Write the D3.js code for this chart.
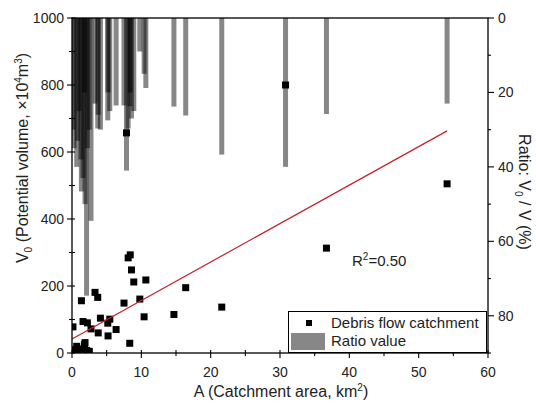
<!DOCTYPE html>
<html>
<head>
<meta charset="utf-8">
<script src="https://cdn.jsdelivr.net/npm/d3@7"></script>
<style>
  body { margin: 0; background: #fff; }
  text { font-family: "Liberation Sans", Arial, sans-serif; fill: #222; }
</style>
</head>
<body>
<div class="chart"></div>
<script>
// catchment area (km2), potential volume V0 (x10^4 m3), ratio V0/V (%)
const areaA = [0.14, 0.3, 0.68, 0.8, 1.0, 1.3, 1.36, 1.59, 1.8, 1.88, 2.1, 2.22, 2.5, 2.74,
  3.32, 3.71, 3.78, 4.1, 5.16, 5.2, 5.45, 6.36, 7.5, 7.86, 8.1, 8.33, 8.4, 8.58, 8.91,
  9.78, 10.4, 10.65, 14.7, 16.4, 21.6, 30.8, 36.7, 54.1];
const volumeV0 = [78, 10, 20, 8, 3, 12, 156, 94, 25, 31, 8, 90, 5, 72,
  181, 166, 60, 104, 89, 51, 101, 70, 149, 657, 284, 29, 293, 248, 212,
  161, 108, 218, 115, 195, 137, 800, 313, 505];
const ratioPct = [30, 35, 40, 33, 25, 38, 46.6, 43, 20, 50, 74.6, 35, 30, 54.5,
  23, 29.7, 26, 30, 27.5, 20, 25, 23.5, 23.5, 41, 29.7, 23.7, 20, 27, 25,
  9, 15, 18.8, 23.8, 26.2, 36.7, 40, 25.8, 23];
// linear fit end points [A, V0]
const fitLine = [[0, 42], [54.1, 663]];
const xTicks = [0, 10, 20, 30, 40, 50, 60];
const yTicks = [0, 200, 400, 600, 800, 1000];
const rTicks = [0, 20, 40, 60, 80];

const W = 536, H = 403;
const pL = 72, pR = 488, pT = 18, pB = 353;

const x = d3.scaleLinear().domain([0, 60]).range([pL, pR]);
const y = d3.scaleLinear().domain([0, 1000]).range([pB, pT]);
const yR = d3.scaleLinear().domain([0, 90]).range([pT, pB]);

const data = areaA.map((a, i) => ({a: a, v: volumeV0[i], r: ratioPct[i]}));

const svg = d3.select('.chart').append('svg')
  .attr('width', W).attr('height', H);

svg.append('clipPath').attr('id', 'plot')
  .append('rect').attr('x', pL).attr('y', pT)
  .attr('width', pR - pL).attr('height', pB - pT);

// ratio bars hanging from the top
const barW = 5;
svg.append('g').attr('clip-path', 'url(#plot)')
  .selectAll('rect').data(data).join('rect')
    .attr('x', d => x(d.a) - barW / 2)
    .attr('y', pT)
    .attr('width', barW)
    .attr('height', d => yR(d.r) - pT)
    .attr('fill', '#000')
    .attr('fill-opacity', 0.47);

// scatter points
const sq = 7;
svg.append('g').attr('clip-path', 'url(#plot)')
  .selectAll('rect').data(data).join('rect')
    .attr('x', d => x(d.a) - sq / 2)
    .attr('y', d => y(d.v) - sq / 2)
    .attr('width', sq).attr('height', sq)
    .attr('fill', '#000');

// fit line
svg.append('path')
  .datum(fitLine)
  .attr('fill', 'none')
  .attr('stroke', '#c8202a')
  .attr('stroke-width', 1.2)
  .attr('d', d3.line().x(d => x(d[0])).y(d => y(d[1])));

// frame
svg.append('rect')
  .attr('x', pL).attr('y', pT)
  .attr('width', pR - pL).attr('height', pB - pT)
  .attr('fill', 'none').attr('stroke', '#000').attr('stroke-width', 1.3);

// axes
const ax = svg.append('g').attr('stroke', '#000').attr('stroke-width', 1.1);
xTicks.forEach(t => ax.append('line').attr('x1', x(t)).attr('x2', x(t)).attr('y1', pB - 3).attr('y2', pB + 5));
xTicks.slice(1).forEach(t => ax.append('line').attr('x1', x(t - 5)).attr('x2', x(t - 5)).attr('y1', pB - 3).attr('y2', pB + 3));
yTicks.forEach(t => ax.append('line').attr('y1', y(t)).attr('y2', y(t)).attr('x1', pL - 5).attr('x2', pL + 3));
yTicks.slice(1).forEach(t => ax.append('line').attr('y1', y(t - 100)).attr('y2', y(t - 100)).attr('x1', pL - 3).attr('x2', pL + 3));
rTicks.forEach(t => ax.append('line').attr('y1', yR(t)).attr('y2', yR(t)).attr('x1', pR).attr('x2', pR + 6));
rTicks.forEach(t => ax.append('line').attr('y1', yR(t + 10)).attr('y2', yR(t + 10)).attr('x1', pR).attr('x2', pR + 3));

svg.append('g').selectAll('text').data(xTicks).join('text')
  .attr('x', d => x(d)).attr('y', 377)
  .attr('text-anchor', 'middle').attr('font-size', 14)
  .text(d => d);
svg.append('g').selectAll('text').data(yTicks).join('text')
  .attr('x', 64).attr('y', d => y(d) + 5)
  .attr('text-anchor', 'end').attr('font-size', 14)
  .text(d => d);
svg.append('g').selectAll('text').data(rTicks).join('text')
  .attr('x', 498).attr('y', d => yR(d) + 5)
  .attr('font-size', 14)
  .text(d => d);

// axis titles
const xt = svg.append('text').attr('x', 281).attr('y', 397)
  .attr('text-anchor', 'middle').attr('font-size', 16);
xt.append('tspan').text('A (Catchment area, km');
xt.append('tspan').attr('font-size', 10).attr('dy', -6).text('2');
xt.append('tspan').attr('dy', 6).text(')');

const yt = svg.append('text')
  .attr('transform', 'translate(28,158) rotate(-90)')
  .attr('text-anchor', 'middle').attr('font-size', 16);
yt.append('tspan').text('V');
yt.append('tspan').attr('font-size', 10).attr('dy', 4).text('0');
yt.append('tspan').attr('dy', -4).text(' (Potential volume, \u00d710');
yt.append('tspan').attr('font-size', 10).attr('dy', -6).text('4');
yt.append('tspan').attr('dy', 6).text('m');
yt.append('tspan').attr('font-size', 10).attr('dy', -6).text('3');
yt.append('tspan').attr('dy', 6).text(')');

const rt = svg.append('text')
  .attr('transform', 'translate(519,192) rotate(90)')
  .attr('text-anchor', 'middle').attr('font-size', 16);
rt.append('tspan').text('Ratio: V');
rt.append('tspan').attr('font-size', 10).attr('dy', 4).text('0');
rt.append('tspan').attr('dy', -4).text(' / V (%)');

// R2 label
const r2 = svg.append('text').attr('x', 352).attr('y', 266).attr('font-size', 15);
r2.append('tspan').text('R');
r2.append('tspan').attr('font-size', 10).attr('dy', -6).text('2');
r2.append('tspan').attr('dy', 6).text('=0.50');

// legend
const lg = svg.append('g');
lg.append('rect').attr('x', 288.5).attr('y', 311.5).attr('width', 198).attr('height', 41)
  .attr('fill', '#fff').attr('stroke', '#000').attr('stroke-width', 1);
lg.append('rect').attr('x', 306).attr('y', 320).attr('width', 6).attr('height', 6).attr('fill', '#000');
lg.append('text').attr('x', 331).attr('y', 328).attr('font-size', 15).text('Debris flow catchment');
lg.append('rect').attr('x', 291).attr('y', 333).attr('width', 34).attr('height', 17)
  .attr('fill', '#000').attr('fill-opacity', 0.47);
lg.append('text').attr('x', 331).attr('y', 346).attr('font-size', 15).text('Ratio value');
</script>
</body>
</html>
